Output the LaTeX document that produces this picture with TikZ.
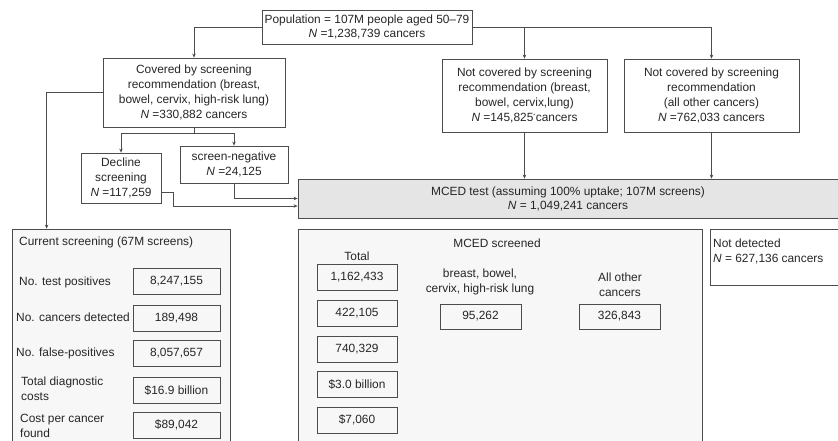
\documentclass[tikz,border=0pt]{standalone}
\usepackage{fontspec}
\setmainfont{Liberation Sans}
\usetikzlibrary{arrows.meta,positioning}
\definecolor{linegray}{gray}{0.3}
\definecolor{panelfill}{gray}{0.97}
\definecolor{testfill}{gray}{0.9}
\begin{document}
\begin{tikzpicture}[x=1pt, y=-1pt,
    every node/.style={font=\fontsize{11.9}{15}\selectfont, text=black!85, inner sep=0pt},
    flowbox/.style={draw=linegray, line width=0.8pt, align=center},
    valbox/.style={draw=linegray, line width=0.8pt, minimum width=87pt, minimum height=26pt},
    panel/.style={draw=linegray, line width=0.8pt, fill=panelfill},
    flow/.style={draw=linegray, line width=0.7pt, -{Stealth[length=4pt,width=3.5pt]}}]
    \useasboundingbox (0,0) rectangle (838,440);
    % top of the flow
    \node[flowbox, minimum width=210pt, minimum height=34pt,
        font=\fontsize{11.9}{13.5}\selectfont] (pop) at (367,27)
        {Population = 107M people aged 50–79\\\textit{N} =1,238,739 cancers};
    \node[flowbox, minimum width=182pt, minimum height=69pt] (cov) at (194,92.5)
        {Covered by screening\\recommendation (breast,\\bowel, cervix, high-risk lung)\\\textit{N} =330,882 cancers};
    \node[flowbox, minimum width=165pt, minimum height=73pt] (nc1) at (524.5,95.5)
        {Not covered by screening\\recommendation (breast,\\bowel, cervix,lung)\\\textit{N} =145,825\textsuperscript{\tiny*}cancers};
    \node[flowbox, minimum width=175pt, minimum height=73pt] (nc2) at (711.5,95.5)
        {Not covered by screening\\recommendation\\(all other cancers)\\\textit{N} =762,033 cancers};
    \node[flowbox, minimum width=80pt, minimum height=50pt] (dec) at (121,178)
        {Decline\\screening\\\textit{N} =117,259};
    \node[flowbox, minimum width=108pt, minimum height=37pt] (sneg) at (234,164.5)
        {screen-negative\\\textit{N} =24,125};
    \node[flowbox, fill=testfill, minimum width=540pt, minimum height=39pt,
        font=\fontsize{11.9}{14}\selectfont] (mced) at (568,198.5)
        {MCED test (assuming 100\% uptake; 107M screens)\\\textit{N} = 1,049,241 cancers};
    % result panels
    \node[panel, minimum width=218pt, minimum height=216pt] (cur) at (121,337) {};
    \node[panel, minimum width=404pt, minimum height=216pt] (scr) at (500,337) {};
    \node[draw=linegray, line width=0.8pt, minimum width=130pt, minimum height=56pt] (nd) at (775,257) {};
    \node[anchor=west] (curt) at (19,242) {Current screening (67M screens)};
    \node (scrt) at (497,243) {MCED screened};
    \node[anchor=west, align=left] (ndt) at (713,251) {Not detected\\\textit{N} = 627,136 cancers};
    \foreach \t/\xx/\yy [count=\i] in {{No. test positives}/19/282, {No. cancers detected}/16/317,
        {No. false-positives}/16/353, {Total diagnostic\\costs}/21/389, {Cost per cancer\\found}/20/425.5}
        \node[anchor=west, align=left] (cl\i) at (\xx,\yy) {\t};
    \foreach \v/\yy [count=\i] in {{8,247,155}/281.5, {189,498}/318.5, {8,057,657}/353.5,
        {\$16.9 billion}/390, {\$89,042}/425}
        \node[valbox] (cs\i) at (176.5,\yy) {\v};
    \node (tot) at (357,256) {Total};
    \foreach \v/\yy [count=\i] in {{1,162,433}/277, {422,105}/313, {740,329}/349,
        {\$3.0 billion}/384.5, {\$7,060}/420}
        \node[valbox, minimum width=80pt] (ms\i) at (357,\yy) {\v};
    \node[align=center] (bbt) at (480,282) {breast, bowel,\\cervix, high-risk lung};
    \node[align=center] (aot) at (620,284.5) {All other\\cancers};
    \node[valbox, minimum width=81pt, minimum height=25pt] (bb) at (480.5,316.5) {95,262};
    \node[valbox, minimum width=81pt, minimum height=25pt] (ao) at (619.5,316.5) {326,843};
    % connectors
    \draw[flow] (pop.west) -| (cov.north);
    \draw[flow] (pop.east) -| (nc1.north);
    \draw[flow] (pop.east) -| (nc2.north);
    \draw[flow] (cov.west) -| ([xshift=35pt]cur.north west);
    \draw[linegray, line width=0.7pt] (cov.south) -- ++(0,6) coordinate (split);
    \draw[flow] (split) -| (dec.north);
    \draw[flow] (split) -| (sneg.north);
    \draw[flow] (sneg.south) |- (mced.west);
    \draw[flow] ([yshift=-14pt]dec.east) -- ++(12,0) |- ([yshift=-7.5pt]mced.west);
    \draw[flow] (nc1.south) -- (nc1.south |- mced.north);
    \draw[flow] (nc2.south) -- (nc2.south |- mced.north);
\end{tikzpicture}
\end{document}
